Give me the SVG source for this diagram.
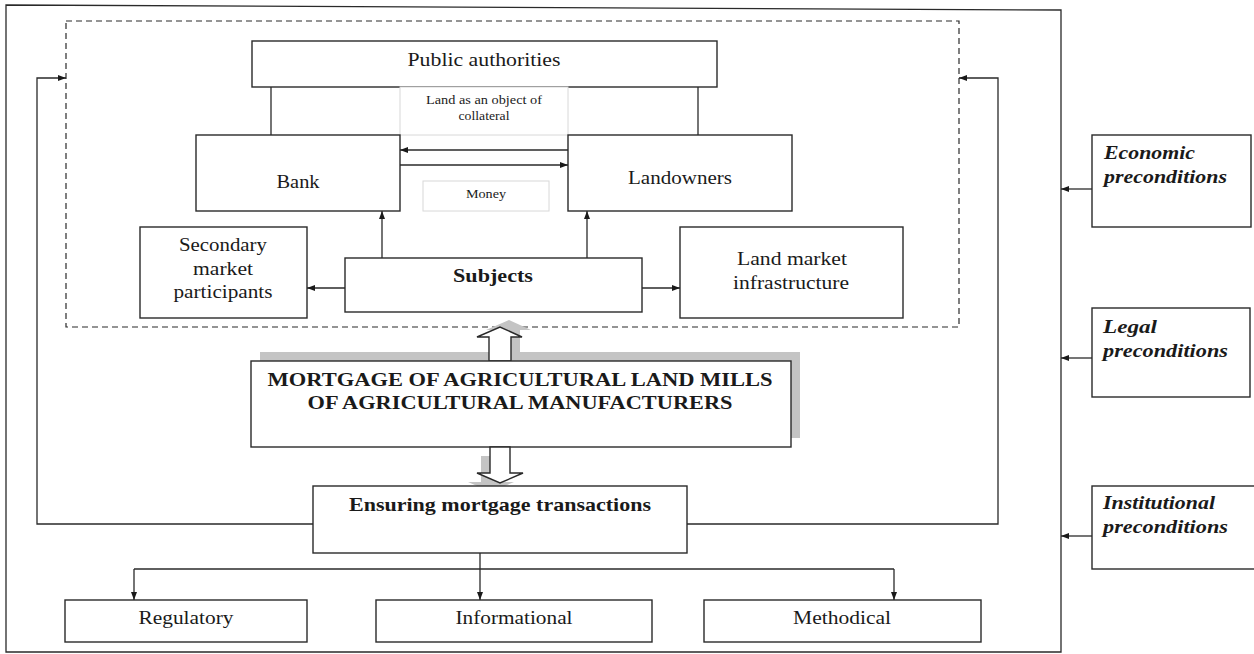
<svg xmlns="http://www.w3.org/2000/svg" width="1254" height="654" viewBox="0 0 1254 654">
  <style>
    .box { fill: #ffffff; stroke: #2a2a2a; stroke-width: 1.4; }
    .soft { fill: #ffffff; stroke: #d8d8d8; stroke-width: 1; }
    .ln { fill: none; stroke: #2a2a2a; stroke-width: 1.3; }
    .dash { fill: none; stroke: #2a2a2a; stroke-width: 1.2; stroke-dasharray: 6 4; }
    .shadow { fill: #c4c4c4; stroke: none; }
    .t { font-family: "Liberation Serif", "Times New Roman", serif; fill: #1a1a1a; text-anchor: middle; }
    .r { font-size: 19px; }
    .s { font-size: 13px; }
    .b { font-size: 19px; font-weight: bold; }
    .bi { font-family: "Liberation Serif", "Times New Roman", serif; fill: #1a1a1a; font-size: 19px; font-weight: bold; font-style: italic; }
  </style>
  <defs>
    <marker id="arr" viewBox="0 0 8 6" refX="8" refY="3" markerWidth="8" markerHeight="6" markerUnits="userSpaceOnUse" orient="auto">
      <path d="M0,0 L8,3 L0,6 z" fill="#1a1a1a"/>
    </marker>
  </defs>

  <rect width="1254" height="654" fill="#ffffff"/>

  <!-- outer frame and dashed subject area -->
  <path class="ln" d="M6,5 L1061,10 L1061,652 L6,652 Z"/>
  <rect class="dash" x="66" y="21" width="893" height="306"/>

  <!-- connectors -->
  <g id="connectors">
    <line class="ln" x1="271" y1="87" x2="271" y2="135"/>
    <line class="ln" x1="698" y1="87" x2="698" y2="135"/>
    <line class="ln" x1="568" y1="150" x2="400" y2="150" marker-end="url(#arr)"/>
    <line class="ln" x1="400" y1="165" x2="568" y2="165" marker-end="url(#arr)"/>
    <line class="ln" x1="382" y1="258" x2="382" y2="211" marker-end="url(#arr)"/>
    <line class="ln" x1="587" y1="258" x2="587" y2="211" marker-end="url(#arr)"/>
    <line class="ln" x1="345" y1="288" x2="307" y2="288" marker-end="url(#arr)"/>
    <line class="ln" x1="642" y1="288" x2="680" y2="288" marker-end="url(#arr)"/>
    <polyline class="ln" points="313,524 37,524 37,78 66,78" marker-end="url(#arr)"/>
    <polyline class="ln" points="687,524 998,524 998,78 959,78" marker-end="url(#arr)"/>
    <line class="ln" x1="480" y1="553" x2="480" y2="600" marker-end="url(#arr)"/>
    <line class="ln" x1="134" y1="569" x2="894" y2="569"/>
    <line class="ln" x1="134" y1="569" x2="134" y2="600" marker-end="url(#arr)"/>
    <line class="ln" x1="894" y1="569" x2="894" y2="600" marker-end="url(#arr)"/>
    <line class="ln" x1="1092" y1="189" x2="1061" y2="189" marker-end="url(#arr)"/>
    <line class="ln" x1="1092" y1="358" x2="1061" y2="358" marker-end="url(#arr)"/>
    <line class="ln" x1="1092" y1="536" x2="1061" y2="536" marker-end="url(#arr)"/>
  </g>

  <g id="public-authorities">
    <rect class="box" x="252" y="41" width="465" height="46"/>
    <text class="t r" x="484" y="66" textLength="153" lengthAdjust="spacingAndGlyphs">Public authorities</text>
  </g>

  <g id="land-collateral">
    <rect class="soft" x="400" y="87" width="168" height="48"/>
    <text class="t s" x="484" y="104" textLength="116" lengthAdjust="spacingAndGlyphs">Land as an object of</text>
    <text class="t s" x="484" y="120" textLength="51" lengthAdjust="spacingAndGlyphs">collateral</text>
  </g>

  <g id="money">
    <rect class="soft" x="423" y="181" width="126" height="30"/>
    <text class="t" x="486" y="198" font-size="12" textLength="40" lengthAdjust="spacingAndGlyphs">Money</text>
  </g>

  <g id="bank">
    <rect class="box" x="196" y="135" width="204" height="76"/>
    <text class="t r" x="298" y="188" textLength="43" lengthAdjust="spacingAndGlyphs">Bank</text>
  </g>

  <g id="landowners">
    <rect class="box" x="568" y="135" width="224" height="76"/>
    <text class="t r" x="680" y="184" textLength="104" lengthAdjust="spacingAndGlyphs">Landowners</text>
  </g>

  <g id="secondary-market">
    <rect class="box" x="140" y="227" width="167" height="91"/>
    <text class="t r" x="223" y="251" textLength="88" lengthAdjust="spacingAndGlyphs">Secondary</text>
    <text class="t r" x="223" y="275" textLength="60" lengthAdjust="spacingAndGlyphs">market</text>
    <text class="t r" x="223" y="298" textLength="99" lengthAdjust="spacingAndGlyphs">participants</text>
  </g>

  <g id="subjects">
    <rect class="box" x="345" y="258" width="297" height="54"/>
    <text class="t b" x="493" y="282" textLength="80" lengthAdjust="spacingAndGlyphs">Subjects</text>
  </g>

  <g id="land-market-infrastructure">
    <rect class="box" x="680" y="227" width="223" height="91"/>
    <text class="t r" x="792" y="265" textLength="110" lengthAdjust="spacingAndGlyphs">Land market</text>
    <text class="t r" x="791" y="289" textLength="116" lengthAdjust="spacingAndGlyphs">infrastructure</text>
  </g>

  <g id="mortgage">
    <rect class="shadow" x="260" y="352" width="540" height="86"/>
    <polygon class="shadow" points="498,354 498,330 486,330 509,320 531,330 520,330 520,354"/>
    <polygon class="box" points="489,361 489,337 477,337 500,327 522,337 511,337 511,361"/>
    <rect class="box" x="251" y="361" width="540" height="86"/>
    <text class="t b" x="520" y="386" textLength="505" lengthAdjust="spacingAndGlyphs">MORTGAGE OF AGRICULTURAL LAND MILLS</text>
    <text class="t b" x="520" y="409" textLength="425" lengthAdjust="spacingAndGlyphs">OF AGRICULTURAL MANUFACTURERS</text>
    <polygon class="shadow" points="481,456 481,482 468,482 491,492 514,482 501,482 501,456"/>
    <polygon class="box" points="490,447 490,473 477,473 500,483 523,473 510,473 510,447"/>
  </g>

  <g id="ensuring">
    <rect class="box" x="313" y="486" width="374" height="67"/>
    <text class="t b" x="500" y="511" textLength="302" lengthAdjust="spacingAndGlyphs">Ensuring mortgage transactions</text>
  </g>

  <g id="regulatory">
    <rect class="box" x="65" y="600" width="242" height="42"/>
    <text class="t r" x="186" y="624" textLength="95" lengthAdjust="spacingAndGlyphs">Regulatory</text>
  </g>

  <g id="informational">
    <rect class="box" x="376" y="600" width="276" height="42"/>
    <text class="t r" x="514" y="624" textLength="117" lengthAdjust="spacingAndGlyphs">Informational</text>
  </g>

  <g id="methodical">
    <rect class="box" x="704" y="600" width="277" height="42"/>
    <text class="t r" x="842" y="624" textLength="98" lengthAdjust="spacingAndGlyphs">Methodical</text>
  </g>

  <g id="economic">
    <rect class="box" x="1092" y="135" width="159" height="92"/>
    <text class="bi" x="1104" y="159" textLength="91" lengthAdjust="spacingAndGlyphs">Economic</text>
    <text class="bi" x="1104" y="183" textLength="123" lengthAdjust="spacingAndGlyphs">preconditions</text>
  </g>

  <g id="legal">
    <rect class="box" x="1092" y="308" width="158" height="89"/>
    <text class="bi" x="1103" y="333" textLength="54" lengthAdjust="spacingAndGlyphs">Legal</text>
    <text class="bi" x="1103" y="357" textLength="125" lengthAdjust="spacingAndGlyphs">preconditions</text>
  </g>

  <g id="institutional">
    <rect class="box" x="1092" y="486" width="164" height="83"/>
    <text class="bi" x="1103" y="509" textLength="112" lengthAdjust="spacingAndGlyphs">Institutional</text>
    <text class="bi" x="1103" y="533" textLength="125" lengthAdjust="spacingAndGlyphs">preconditions</text>
  </g>
</svg>
